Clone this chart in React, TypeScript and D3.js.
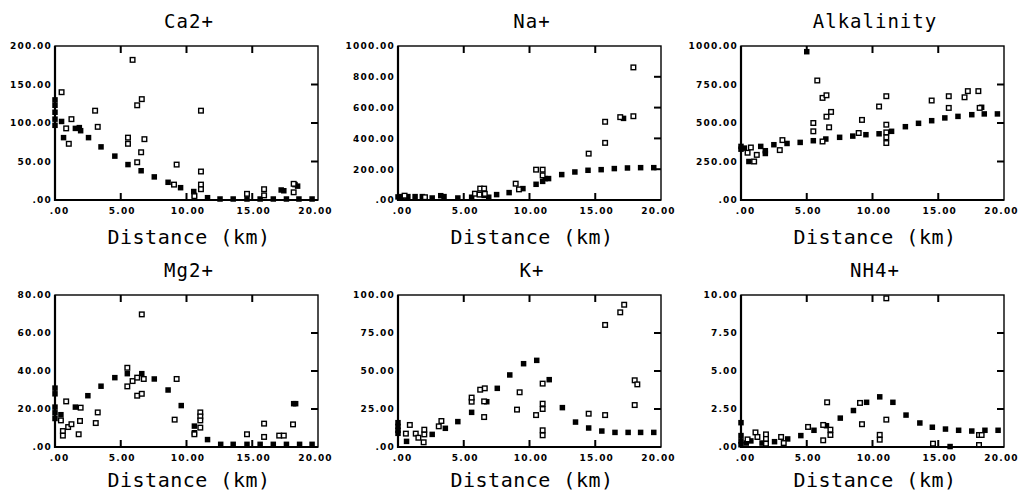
import React, { useEffect, useRef } from "react";
import * as d3 from "d3";

type Pt = [number, number];

// panel titles, y-axis maxima and y tick steps
const titles = ["Ca2+", "Na+", "Alkalinity", "Mg2+", "K+", "NH4+"];
const xTicks = [0, 5, 10, 15, 20];
const yMaxes = [200, 1000, 1000, 80, 100, 10];
const ySteps = [50, 200, 250, 20, 25, 2.5];

// filled squares = model, open squares = measured  [km, value]
const caFilled: Pt[] = [[0,130],[0,123],[0,114],[0,105],[0,97],[0.5,102],[0.65,81],[1.55,93],[1.85,94],[1.95,90],[2.55,81],[3.5,69],[4.55,57],[5.55,46],[6.55,38],[7.55,30],[8.6,23],[9.55,16],[10.55,11],[10.6,6],[11.6,3],[12.55,1.3],[13.55,1.3],[14.6,1.3],[15.6,1.3],[16.6,1.3],[17.2,13],[17.4,12],[17.6,1.3],[18.25,20],[18.45,18],[18.55,1.3],[19.55,1.3]];
const caOpen: Pt[] = [[0.5,140],[0.85,93],[1.25,105],[1.05,73],[3.05,116],[3.25,95],[5.9,182],[6.25,123],[6.6,131],[5.55,81],[5.55,73],[6.8,79],[6.55,62],[6.25,49],[9.25,46],[9.05,20],[11.1,116],[11.1,37],[11.1,20],[11.1,14],[10.6,5],[14.6,8],[15.9,14],[15.9,6],[18.15,10],[18.15,21]];

const naFilled: Pt[] = [[0,20],[0.3,22],[0.75,22],[1.3,22],[1.85,22],[2.6,13],[3.25,28],[3.5,22],[4.55,13],[5.6,18],[6.55,30],[6.9,18],[7.5,35],[8.45,48],[9.5,74],[10.5,102],[11.0,121],[11.2,139],[11.45,139],[12.45,165],[13.45,182],[14.45,193],[15.45,197],[16.45,204],[17.15,530],[17.45,208],[18.45,210],[19.45,210]];
const naOpen: Pt[] = [[0.5,28],[2.05,18],[5.85,41],[6.2,35],[6.25,74],[6.55,74],[6.6,40],[8.95,106],[9.2,69],[10.5,197],[11.0,197],[11.0,160],[14.5,301],[15.75,371],[15.75,508],[16.9,538],[17.9,544],[17.9,861]];

const alkFilled: Pt[] = [[0,348],[0,330],[0.25,337],[0.6,250],[1.5,348],[1.85,320],[1.85,302],[2.5,359],[3.5,367],[4.5,374],[5.0,963],[5.5,385],[6.45,396],[7.5,407],[8.5,415],[9.5,424],[10.5,430],[11.45,446],[12.5,476],[13.5,498],[14.5,515],[15.5,533],[16.5,543],[17.55,554],[18.3,602],[18.5,559],[19.5,559]];
const alkOpen: Pt[] = [[0.5,307],[0.75,341],[1.0,250],[1.2,293],[2.95,324],[3.15,389],[5.5,500],[5.5,446],[5.8,776],[6.2,663],[6.2,380],[6.5,680],[6.5,541],[6.7,472],[6.85,572],[8.95,435],[9.2,520],[10.5,607],[11.05,674],[11.05,489],[11.05,439],[11.05,407],[11.05,370],[14.5,646],[15.8,674],[15.8,598],[17.0,667],[17.25,707],[18.05,707],[18.15,598]];

const mgFilled: Pt[] = [[0,31],[0,28],[0,21],[0,18],[0,15],[0.45,17],[1.55,21],[2.5,27],[3.5,32],[4.55,36.5],[5.5,38.6],[6.6,38.6],[7.55,35.8],[8.6,30],[9.6,21.8],[10.6,11],[10.6,7.5],[11.6,3.9],[12.6,1.4],[13.55,1.4],[14.6,1.4],[15.6,1.4],[16.6,1.4],[17.6,1.4],[18.15,22.8],[18.3,22.8],[18.6,1.4],[19.55,1.4]];
const mgOpen: Pt[] = [[0.45,14],[0.85,24],[0.6,8.4],[0.6,6],[1.0,10.5],[1.25,12],[1.8,6.7],[1.9,13.7],[1.95,20.7],[3.1,12.6],[3.25,18.2],[5.5,41.7],[5.5,31.9],[5.9,34.7],[6.25,36.5],[6.25,27],[6.6,69.8],[6.6,28],[6.75,35.8],[9.1,14.4],[9.25,35.8],[10.6,6.7],[11.05,18.2],[11.05,16.1],[11.05,14],[11.05,10.2],[14.6,6.7],[15.9,12.3],[15.9,5.3],[17.05,6],[17.4,6],[18.1,11.9]];

const kFilled: Pt[] = [[0,16],[0,13.5],[0,11],[0,9],[0.65,3.7],[2.6,8.3],[3.6,12.3],[4.55,16.7],[5.6,22.8],[6.75,29.8],[7.55,38.6],[8.5,47.4],[9.55,54.8],[10.55,57],[11.5,44.3],[12.5,25.9],[13.5,16.4],[14.5,12.5],[15.5,10.5],[16.5,9.6],[17.5,9.6],[18.45,9.6],[19.45,9.6]];
const kOpen: Pt[] = [[0.6,8.8],[0.9,14.5],[1.35,8.8],[1.55,6.1],[1.95,3.1],[2.0,8.3],[2.0,11.4],[3.1,13.6],[3.3,17.1],[5.6,29.8],[5.6,32.5],[6.25,37.7],[6.55,19.7],[6.6,38.6],[6.55,30],[9.05,24.6],[9.25,36],[10.5,21],[11.0,41.7],[11.0,28.5],[11.0,25],[11.0,11],[11.0,7.7],[14.5,21.9],[15.75,21],[15.75,80.3],[16.9,88.6],[17.2,93.6],[18.0,43.9],[18.2,41.2],[18.0,27.6]];

const nhFilled: Pt[] = [[0,1.6],[0,0.75],[0,0.4],[0,0.15],[0.4,0.26],[0.75,0.4],[1.6,0.26],[2.55,0.35],[3.55,0.53],[4.55,0.75],[5.55,1.1],[6.5,1.4],[7.55,1.9],[8.55,2.4],[9.55,2.94],[10.55,3.3],[11.55,2.94],[12.55,2.1],[13.6,1.58],[14.55,1.3],[15.55,1.18],[15.9,0.03],[16.55,1.1],[17.55,1.05],[18.55,1.1],[19.55,1.1]];
const nhOpen: Pt[] = [[0.5,0.5],[1.1,0.96],[1.25,0.66],[1.9,0.83],[1.9,0.53],[1.9,0.22],[3.05,0.66],[3.25,0.26],[5.1,1.32],[6.25,1.45],[6.25,0.44],[6.55,2.94],[6.8,1.14],[6.8,0.79],[9.05,2.9],[9.2,1.5],[10.55,0.8],[10.55,0.48],[11.05,9.78],[11.05,1.8],[14.6,0.22],[18.1,0.79],[18.3,0.79],[18.1,0.13]];

const filledSets = [caFilled, naFilled, alkFilled, mgFilled, kFilled, nhFilled];
const openSets = [caOpen, naOpen, alkOpen, mgOpen, kOpen, nhOpen];

const fmt = (v: number) => d3.format(".2f")(v).replace(/^0\./, ".");

function App() {
  const ref = useRef<SVGSVGElement>(null);

  useEffect(() => {
    const svg = d3.select(ref.current);
    svg.selectAll("*").remove();

    const w = 263;
    titles.forEach((title, i) => {
      const col = i % 3,
        row = Math.floor(i / 3);
      const left = 55 + col * 343;
      const top = row ? 295 : 46;
      const h = row ? 152 : 154;

      const x = d3.scaleLinear().domain([0, 20]).range([left, left + w]);
      const y = d3.scaleLinear().domain([0, yMaxes[i]]).range([top + h, top]);
      const yTicks = d3.range(0, yMaxes[i] + ySteps[i] / 2, ySteps[i]);

      const g = svg.append("g");

      // markers
      g.selectAll("rect.filled")
        .data(filledSets[i])
        .enter()
        .append("rect")
        .attr("x", d => x(d[0]) - 2.75)
        .attr("y", d => y(d[1]) - 2.75)
        .attr("width", 5.5)
        .attr("height", 5.5)
        .attr("fill", "#000");

      g.selectAll("rect.open")
        .data(openSets[i])
        .enter()
        .append("rect")
        .attr("x", d => x(d[0]) - 2.3)
        .attr("y", d => y(d[1]) - 2.3)
        .attr("width", 4.6)
        .attr("height", 4.6)
        .attr("fill", "#fff")
        .attr("stroke", "#000")
        .attr("stroke-width", 1.4);

      // frame
      g.append("rect")
        .attr("x", left)
        .attr("y", top)
        .attr("width", w)
        .attr("height", h)
        .attr("fill", "none")
        .attr("stroke", "#000")
        .attr("stroke-width", 1.4);
      g.append("path")
        .attr("d", `M${left},${top}V${top + h}H${left + w}`)
        .attr("fill", "none")
        .attr("stroke", "#000")
        .attr("stroke-width", 2.2);

      // inner ticks: top, bottom, right
      const inner = xTicks.slice(1, -1);
      inner.forEach(t => {
        g.append("line")
          .attr("x1", x(t)).attr("x2", x(t))
          .attr("y1", top).attr("y2", top + 7)
          .attr("stroke", "#000").attr("stroke-width", 2);
        g.append("line")
          .attr("x1", x(t)).attr("x2", x(t))
          .attr("y1", top + h).attr("y2", top + h - 7)
          .attr("stroke", "#000").attr("stroke-width", 2);
      });
      yTicks.slice(1, -1).forEach(t => {
        g.append("line")
          .attr("x1", left + w).attr("x2", left + w - 7)
          .attr("y1", y(t)).attr("y2", y(t))
          .attr("stroke", "#000").attr("stroke-width", 2);
      });

      // tick labels
      g.selectAll("text.yl")
        .data(yTicks)
        .enter()
        .append("text")
        .attr("x", left - 3)
        .attr("y", d => y(d) + 3.3)
        .attr("text-anchor", "end")
        .attr("font-family", "DejaVu Sans")
        .attr("font-weight", "bold")
        .attr("font-size", 9)
        .attr("letter-spacing", 1.2)
        .text(d => fmt(d));

      g.selectAll("text.xl")
        .data(xTicks)
        .enter()
        .append("text")
        .attr("x", (d, k) => x(d) + 0.6 + (k === 0 ? 4 : k === xTicks.length - 1 ? -3 : 1))
        .attr("y", top + h + 13.5)
        .attr("text-anchor", "middle")
        .attr("font-family", "DejaVu Sans")
        .attr("font-weight", "bold")
        .attr("font-size", 9)
        .attr("letter-spacing", 1.2)
        .text(d => fmt(d));

      // title and axis label
      g.append("text")
        .attr("x", left + w / 2 + 2.5)
        .attr("y", top - 17.7)
        .attr("text-anchor", "middle")
        .attr("font-family", "DejaVu Sans Mono")
        .attr("font-size", 19)
        .attr("letter-spacing", 1)
        .text(title);

      g.append("text")
        .attr("x", left + w / 2 + 2.5)
        .attr("y", top + h + (row ? 40 : 44))
        .attr("text-anchor", "middle")
        .attr("font-family", "DejaVu Sans Mono")
        .attr("font-size", 20)
        .attr("letter-spacing", 0.5)
        .text("Distance (km)");
    });
  }, []);

  return (
    <svg
      ref={ref}
      width={1021}
      height={494}
      style={{ position: "absolute", left: 0, top: 0, background: "#fff" }}
    />
  );
}

export default App;
